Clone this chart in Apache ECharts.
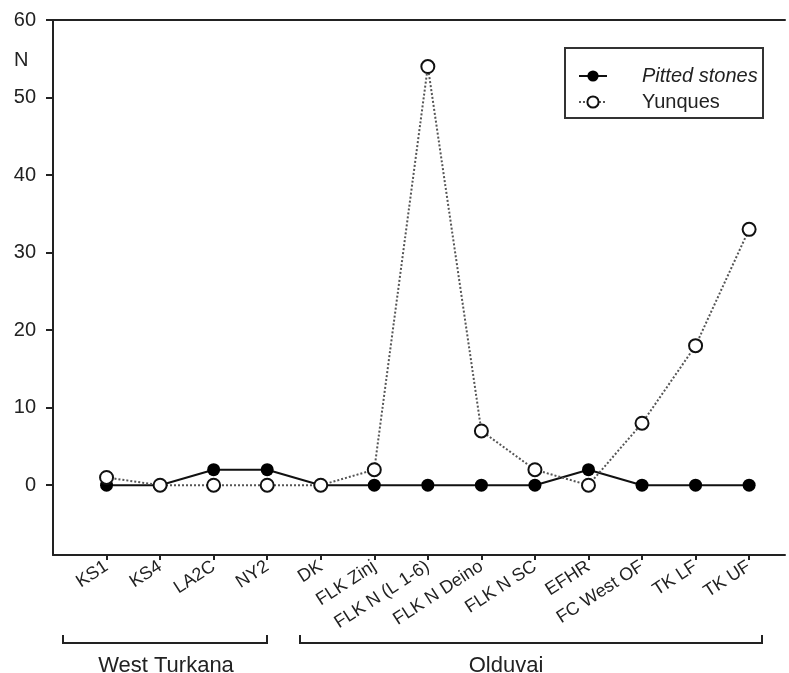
<!DOCTYPE html>
<html>
<head>
<meta charset="utf-8">
<script src="https://cdn.jsdelivr.net/npm/echarts@6/dist/echarts.min.js"></script>
<style>
html,body{margin:0;padding:0;background:#fff;}
#chart{width:789px;height:673px;}
</style>
</head>
<body>
<div id="chart"></div>
<script>
const categories = ['KS1','KS4','LA2C','NY2','DK','FLK Zinj','FLK N (L 1-6)','FLK N Deino','FLK N SC','EFHR','FC West OF','TK LF','TK UF'];
const pittedStones = [0,0,2,2,0,0,0,0,0,2,0,0,0];
const yunques = [1,0,0,0,0,2,54,7,2,0,8,18,33];
const yTicks = [0,10,20,30,40,50,60];
const groupNames = ['West Turkana','Olduvai'];

const xIdx = categories.map((c,i)=>i);
const FONT = '"Liberation Sans", Arial, sans-serif';
const chart = echarts.init(document.getElementById('chart'), null, {renderer:'canvas'});

chart.setOption({
  animation:false,
  backgroundColor:'#fff',
  grid:{left:53,right:4,top:20,bottom:118,containLabel:false},
  legend:{
    orient:'vertical',
    left:573, top:61,
    itemWidth:28, itemHeight:14, itemGap:6,
    data:['Pitted stones','Yunques'],
    formatter: n => n === 'Pitted stones' ? '{i|' + n + '}' : '{n|' + n + '}',
    textStyle:{
      color:'#222', fontFamily:FONT, fontSize:20, lineHeight:20,
      rich:{
        i:{fontStyle:'italic',fontSize:20,fontFamily:FONT,color:'#222',padding:[0,0,0,30]},
        n:{fontSize:20,fontFamily:FONT,color:'#222',padding:[0,0,0,30]}
      }
    }
  },
  xAxis:[{
    type:'value', min:-1, max:12.67, position:'bottom',
    splitLine:{show:false},
    axisLine:{show:true,onZero:false,lineStyle:{color:'#222',width:2}},
    axisTick:{show:true,customValues:xIdx,length:5,lineStyle:{color:'#222',width:2}},
    axisLabel:{customValues:xIdx,rotate:33,margin:10,fontSize:18,fontFamily:FONT,color:'#222',
      formatter:v=>categories[Math.round(v)]}
  },{
    type:'value', min:-1, max:12.67, position:'top',
    splitLine:{show:false},
    axisLine:{show:true,onZero:false,lineStyle:{color:'#222',width:2}},
    axisTick:{show:false}, axisLabel:{show:false}
  }],
  yAxis:{
    type:'value', min:-9, max:60,
    splitLine:{show:false},
    axisLine:{show:true,onZero:false,lineStyle:{color:'#222',width:2}},
    axisTick:{show:true,customValues:yTicks,length:7,lineStyle:{color:'#222',width:2}},
    axisLabel:{customValues:yTicks,margin:17,fontSize:20,fontFamily:FONT,color:'#222'}
  },
  series:[{
    name:'Pitted stones', type:'line', z:2,
    data:pittedStones.map((v,i)=>[i,v]),
    symbol:'circle', symbolSize:13,
    itemStyle:{color:'#000'},
    lineStyle:{color:'#111',width:2}
  },{
    name:'Yunques', type:'line', z:3,
    data:yunques.map((v,i)=>[i,v]),
    symbol:'circle', symbolSize:13,
    itemStyle:{color:'#fff',borderColor:'#111',borderWidth:2},
    lineStyle:{color:'#555',width:2,type:'dotted'}
  }],
  graphic:[
    {type:'text',left:14,top:50,style:{text:'N',font:'20px '+FONT,fill:'#222'}},
    {type:'rect',shape:{x:565,y:48,width:198,height:70},style:{fill:'none',stroke:'#333',lineWidth:2}},
    {type:'polyline',shape:{points:[[63,635],[63,643],[267,643],[267,635]]},style:{fill:'none',stroke:'#222',lineWidth:2}},
    {type:'polyline',shape:{points:[[300,635],[300,643],[762,643],[762,635]]},style:{fill:'none',stroke:'#222',lineWidth:2}},
    {type:'text',x:166,y:666,style:{text:groupNames[0],font:'22px '+FONT,fill:'#222',align:'center',verticalAlign:'middle'}},
    {type:'text',x:506,y:666,style:{text:groupNames[1],font:'22px '+FONT,fill:'#222',align:'center',verticalAlign:'middle'}}
  ]
});
</script>
</body>
</html>
